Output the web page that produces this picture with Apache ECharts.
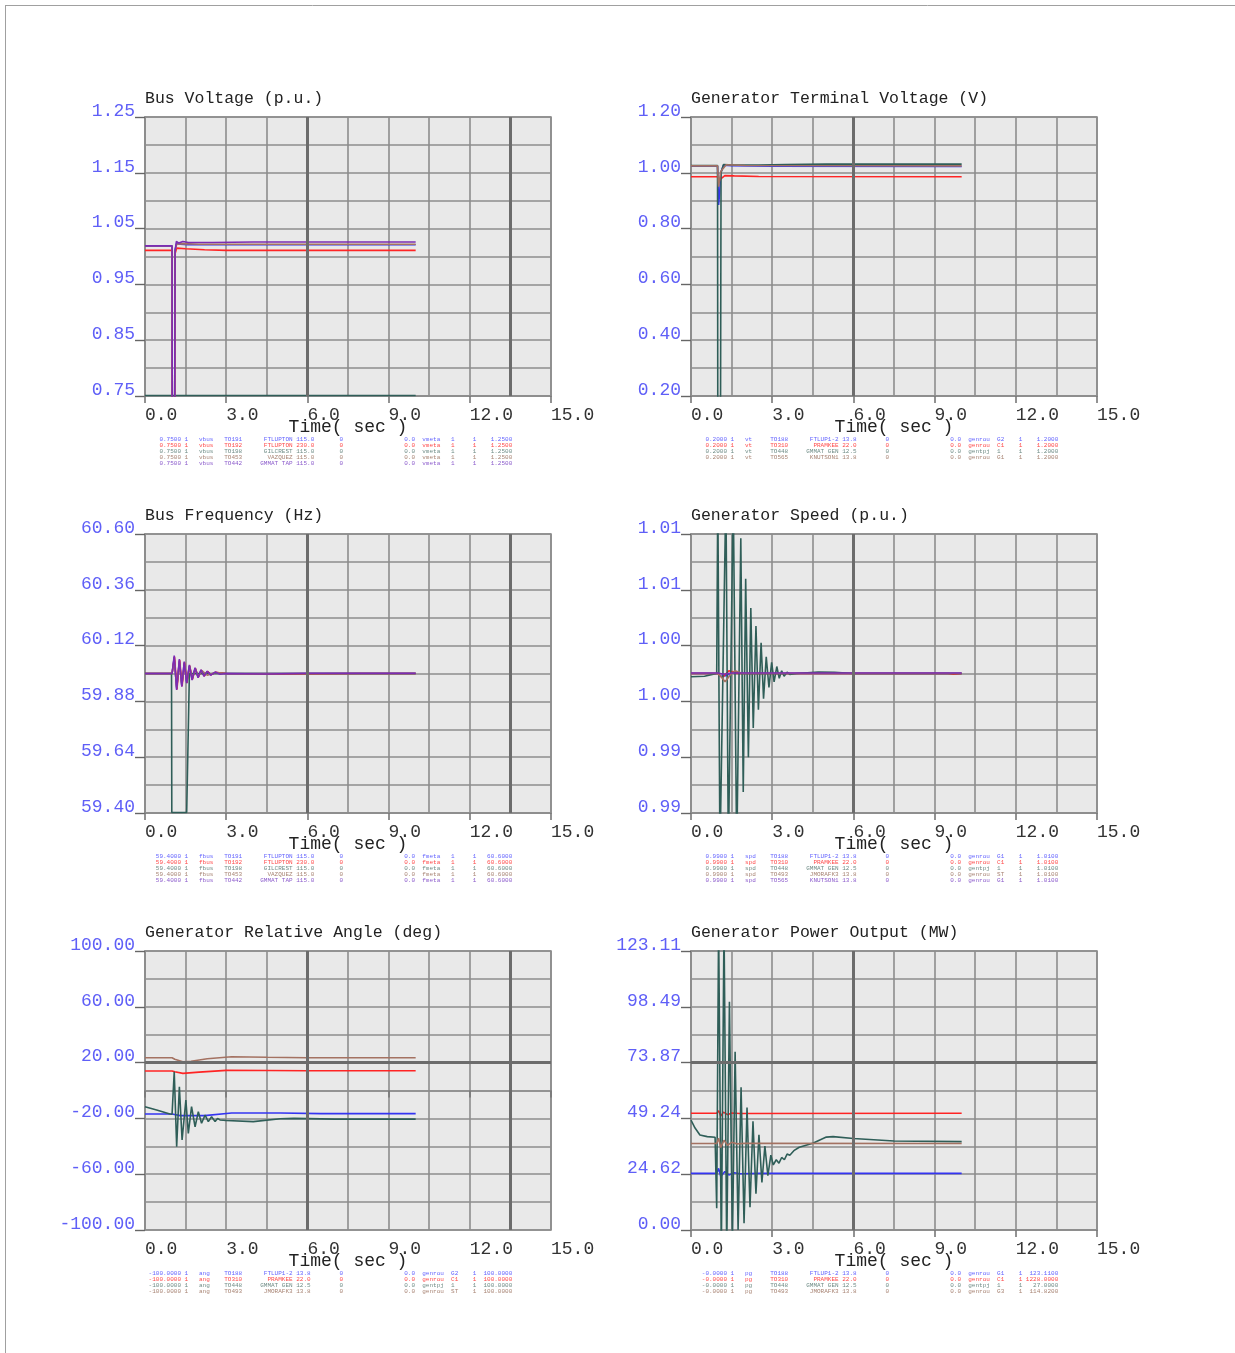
<!DOCTYPE html>
<html>
<head>
<meta charset="UTF-8">
<title>Dynamic Simulation Plots</title>
<script src="https://cdn.jsdelivr.net/npm/echarts@6/dist/echarts.min.js"></script>
<style>
  html, body { margin: 0; padding: 0; background: #fff; }
</style>
</head>
<body>
<div id="chart" style="width: 1235px; height: 1353px;"></div>
<script>
const FONT = '"Liberation Mono", "DejaVu Sans Mono", monospace';

// ---------- axes: [min, max, label step] ----------
const timeAxis = [0, 15, 3];
const busVoltAxis = [0.75, 1.25, 0.1];
const termVoltAxis = [0.2, 1.2, 0.2];
const freqAxis = [59.4, 60.6, 0.24];
const speedAxis = [0.99, 1.01, 0.004];
const angleAxis = [-100, 100, 40];
const powerAxis = [0, 123.11, 24.622];

// ---------- Bus Voltage (p.u.) ----------
const busVoltBlue = [[0,1.019],[1.0,1.019],[1.01,0.55],[1.09,0.55],[1.11,1.012],[1.16,1.023],[1.3,1.022],[1.6,1.021],[3,1.021],[10,1.021]];
const busVoltRed = [[0,1.011],[1.0,1.011],[1.01,0.58],[1.09,0.58],[1.11,1.005],[1.17,1.015],[1.5,1.014],[2.2,1.012],[3,1.011],[10,1.011]];
const busVoltTeal = [[0,0.751],[10,0.751]];
const busVoltBrown = [[0,1.019],[1.0,1.019],[1.01,0.56],[1.09,0.56],[1.11,1.01],[1.17,1.022],[1.4,1.023],[2,1.022],[10,1.022]];
const busVoltPurple = [[0,1.019],[1.0,1.019],[1.01,0.55],[1.09,0.55],[1.11,1.008],[1.16,1.027],[1.25,1.024],[1.4,1.027],[1.6,1.025],[2.5,1.025],[4,1.026],[10,1.026]];

// ---------- Generator Terminal Voltage (V) ----------
const termVoltBlue = [[0,1.024],[0.98,1.024],[1.02,0.885],[1.06,0.93],[1.1,1.0],[1.2,1.027],[1.5,1.025],[3,1.024],[10,1.023]];
const termVoltRed = [[0,0.986],[0.98,0.986],[1.02,0.968],[1.1,0.978],[1.25,0.99],[1.6,0.989],[2.5,0.987],[10,0.986]];
const termVoltTeal = [[0,1.026],[0.98,1.026],[0.99,0.1],[1.09,0.1],[1.11,1.0],[1.2,1.03],[1.6,1.028],[2.5,1.028],[3.5,1.03],[5,1.031],[10,1.031]];
const termVoltBrown = [[0,1.025],[0.98,1.025],[1.02,0.95],[1.1,1.005],[1.3,1.029],[2,1.026],[10,1.025]];

// ---------- Bus Frequency (Hz) ----------
const freqBlue = [[0,60.0],[1.0,60.0],[1.08,60.07],[1.17,59.935],[1.27,60.056],[1.36,59.948],[1.45,60.046],[1.54,59.962],[1.64,60.033],[1.74,59.975],[1.85,60.022],[1.96,59.985],[2.07,60.014],[2.18,59.99],[2.3,60.008],[2.43,59.995],[2.6,60.004],[3.0,60.0],[10,60.0]];
const freqRed = [[0,60.0],[1.0,60.0],[1.09,60.072],[1.18,59.932],[1.28,60.058],[1.37,59.946],[1.46,60.048],[1.55,59.96],[1.65,60.034],[1.75,59.974],[1.86,60.023],[1.97,59.984],[2.08,60.015],[2.19,59.989],[2.31,60.009],[2.44,59.994],[2.6,60.005],[3.0,60.0],[5,59.998],[8,60.0],[10,60.0]];
const freqTeal = [[0,60.0],[0.98,60.0],[0.99,59.402],[1.54,59.402],[1.64,60.0],[10,60.0]];
const freqBrown = [[0,60.0],[1.0,60.0],[1.08,60.06],[1.17,59.94],[1.27,60.05],[1.36,59.95],[1.46,60.04],[1.55,59.965],[1.65,60.03],[1.75,59.978],[1.86,60.02],[1.97,59.986],[2.1,60.012],[2.3,59.993],[2.6,60.004],[3.0,60.0],[10,60.0]];
const freqPurple = [[0,60.0],[1.0,60.0],[1.08,60.077],[1.17,59.929],[1.27,60.062],[1.36,59.943],[1.45,60.051],[1.54,59.958],[1.64,60.037],[1.74,59.972],[1.85,60.025],[1.96,59.982],[2.07,60.016],[2.18,59.988],[2.3,60.01],[2.43,59.993],[2.59,60.006],[2.77,59.997],[3.0,60.0],[4.5,59.998],[6,60.001],[10,60.001]];

// ---------- Generator Speed (p.u.) ----------
const speedBlue = [[0,1.0],[0.98,1.0],[1.1,0.9998],[1.3,0.99985],[1.6,1.0001],[2,1.0],[10,1.0]];
const speedRed = [[0,1.0],[0.98,1.0],[1.15,0.9997],[1.4,1.0002],[1.7,1.0],[9.5,1.0],[9.7,0.99995],[10,1.0]];
const speedTeal = [[0,0.99977],[0.5,0.9998],[0.95,1.0],[0.99,1.013],[1.07,0.987],[1.29,1.013],[1.38,0.987],[1.56,1.013],[1.69,0.987],[1.84,1.0097],[1.93,0.9915],[2.02,1.0068],[2.12,0.994],[2.21,1.0047],[2.3,0.9961],[2.4,1.0034],[2.49,0.9974],[2.59,1.0022],[2.68,0.9982],[2.78,1.0012],[2.88,0.999],[2.98,1.0008],[3.07,0.9994],[3.17,1.0005],[3.26,0.99965],[3.35,1.0002],[3.44,0.9998],[3.55,1.0001],[3.65,0.99993],[3.9,1.0],[4.7,1.0001],[5.3,1.00008],[6,1.0],[10,1.0]];
const speedBrown = [[0,1.0],[0.98,1.0],[1.1,0.9998],[1.26,0.99941],[1.45,0.9999],[1.63,1.0002],[1.9,1.0],[10,1.0]];
const speedPurple = [[0,1.00004],[1.0,1.00004],[1.2,0.99995],[1.5,1.00004],[10,1.00004]];

// ---------- Generator Relative Angle (deg) ----------
const angleBlue = [[0,-16.8],[1.0,-16.8],[1.3,-18.0],[2.2,-18.0],[3.2,-16.1],[5.0,-16.1],[6.5,-16.6],[10,-16.6]];
const angleRed = [[0,14.0],[1.0,14.0],[1.1,13.4],[1.4,12.3],[2.0,13.2],[3.0,14.4],[4.5,14.3],[6,14.2],[10,14.2]];
const angleTeal = [[0,-11.6],[0.43,-14.0],[0.92,-16.8],[1.0,-17.0],[1.08,13.5],[1.17,-40.3],[1.27,2.7],[1.37,-35.5],[1.51,-6.8],[1.6,-30.7],[1.72,-11.6],[1.85,-26.0],[1.97,-15.2],[2.09,-23.5],[2.22,-17.6],[2.34,-22.3],[2.46,-18.8],[2.59,-22.3],[2.68,-20.0],[2.77,-21.1],[3.0,-21.5],[4.0,-22.3],[5.0,-20.3],[5.5,-20.0],[7.0,-20.5],[10,-20.5]];
const angleBrown = [[0,23.5],[1.0,23.5],[1.1,22.4],[1.4,20.6],[1.7,21.0],[2.3,22.8],[3.2,24.2],[4.5,23.8],[6,23.5],[10,23.5]];

// ---------- Generator Power Output (MW) ----------
const powerBlue = [[0,25.0],[0.95,25.0],[1.02,27.2],[1.1,23.6],[1.25,25.8],[1.4,24.3],[1.6,25.3],[1.8,24.8],[2.5,25.0],[10,25.0]];
const powerRed = [[0,51.5],[0.95,51.5],[1.02,52.6],[1.1,50.3],[1.2,52.0],[1.35,50.9],[1.5,51.6],[1.8,51.4],[10,51.5]];
const powerTeal = [[0,48.5],[0.15,45.0],[0.33,41.9],[0.6,41.2],[0.89,40.9],[0.95,9.6],[1.02,135],[1.12,-10],[1.22,135],[1.32,-10],[1.42,100.7],[1.53,-5],[1.63,78.7],[1.74,0],[1.85,63.0],[1.96,3.0],[2.07,54.0],[2.18,10.0],[2.29,48.0],[2.4,16.0],[2.51,42.0],[2.62,21.0],[2.73,37.0],[2.84,24.0],[2.95,33.0],[3.04,28.7],[3.15,31.0],[3.25,29.5],[3.35,32.0],[3.45,31.0],[3.55,33.5],[3.65,33.0],[3.8,35.0],[4.0,36.5],[4.5,38.3],[5.0,41.0],[5.25,41.2],[6.0,40.4],[7.5,39.3],[10,39.0]];
const powerBrown = [[0,38.2],[0.95,38.2],[1.02,40.5],[1.1,36.4],[1.22,39.6],[1.35,37.4],[1.5,38.7],[1.7,38.0],[2,38.3],[10,38.2]];

// ---------- channel listings under each plot ----------
const busVoltRows = [
  ['0.7500','1','vbus','TO191','FTLUPTON','115.0','0','0.0','vmeta','1','1','1.2500'],
  ['0.7500','1','vbus','TO192','FTLUPTON','230.0','0','0.0','vmeta','1','1','1.2500'],
  ['0.7500','1','vbus','TO198','GILCREST','115.0','0','0.0','vmeta','1','1','1.2500'],
  ['0.7500','1','vbus','TO453','VAZQUEZ','115.0','0','0.0','vmeta','1','1','1.2500'],
  ['0.7500','1','vbus','TO442','GMMAT TAP','115.0','0','0.0','vmeta','1','1','1.2500']
];
const termVoltRows = [
  ['0.2000','1','vt','TO188','FTLUP1-2','13.8','0','0.0','genrou','G2','1','1.2000'],
  ['0.2000','1','vt','TO310','PRAMKEE','22.0','0','0.0','genrou','C1','1','1.2000'],
  ['0.2000','1','vt','TO448','GMMAT GEN','12.5','0','0.0','gentpj','1','1','1.2000'],
  ['0.2000','1','vt','TO565','KNUTSON1','13.8','0','0.0','genrou','G1','1','1.2000']
];
const freqRows = [
  ['59.4000','1','fbus','TO191','FTLUPTON','115.0','0','0.0','fmeta','1','1','60.6000'],
  ['59.4000','1','fbus','TO192','FTLUPTON','230.0','0','0.0','fmeta','1','1','60.6000'],
  ['59.4000','1','fbus','TO198','GILCREST','115.0','0','0.0','fmeta','1','1','60.6000'],
  ['59.4000','1','fbus','TO453','VAZQUEZ','115.0','0','0.0','fmeta','1','1','60.6000'],
  ['59.4000','1','fbus','TO442','GMMAT TAP','115.0','0','0.0','fmeta','1','1','60.6000']
];
const speedRows = [
  ['0.9900','1','spd','TO188','FTLUP1-2','13.8','0','0.0','genrou','G1','1','1.0100'],
  ['0.9900','1','spd','TO310','PRAMKEE','22.0','0','0.0','genrou','C1','1','1.0100'],
  ['0.9900','1','spd','TO448','GMMAT GEN','12.5','0','0.0','gentpj','1','1','1.0100'],
  ['0.9900','1','spd','TO493','JMORAFK3','13.8','0','0.0','genrou','ST','1','1.0100'],
  ['0.9900','1','spd','TO565','KNUTSON1','13.8','0','0.0','genrou','G1','1','1.0100']
];
const angleRows = [
  ['-100.0000','1','ang','TO188','FTLUP1-2','13.8','0','0.0','genrou','G2','1','100.0000'],
  ['-100.0000','1','ang','TO310','PRAMKEE','22.0','0','0.0','genrou','C1','1','100.0000'],
  ['-100.0000','1','ang','TO448','GMMAT GEN','12.5','0','0.0','gentpj','1','1','100.0000'],
  ['-100.0000','1','ang','TO493','JMORAFK3','13.8','0','0.0','genrou','ST','1','100.0000']
];
const powerRows = [
  ['-0.0000','1','pg','TO188','FTLUP1-2','13.8','0','0.0','genrou','G1','1','123.1100'],
  ['-0.0000','1','pg','TO310','PRAMKEE','22.0','0','0.0','genrou','C1','1','1228.0000'],
  ['-0.0000','1','pg','TO448','GMMAT GEN','12.5','0','0.0','gentpj','1','1','27.0000'],
  ['-0.0000','1','pg','TO493','JMORAFK3','13.8','0','0.0','genrou','G3','1','114.8200']
];

// ---------- layout / style ----------
const COL_X = [145, 691];
const ROW_Y = [117, 534, 951];
const PLOT_W = 406, PLOT_H = 279;
const GRID_COLOR = '#8d8d8d';
const LINE_COLORS = {blue: '#3434f2', red: '#ff2424', teal: '#2f5e58', brown: '#a47262', purple: '#7b2cb4'};
const ROW_COLORS = ['#6464ff', '#ff4a4a', '#6f8c86', '#a88474', '#8c5ccc'];
const SERIES_ORDER = ['blue', 'red', 'teal', 'brown', 'purple'];
// character columns of the listing fields: [column, align]
const LIST_COLS = [[9,'r'],[10,'l'],[14,'l'],[21,'l'],[40,'r'],[41,'l'],[53,'l'],[71,'l'],[76,'l'],[84,'l'],[90,'l'],[101,'r']];
const LIST_FONT = 6, LIST_CHAR = 3.6;

const panels = [
  {title: 'Bus Voltage (p.u.)', col: 0, row: 0, y: busVoltAxis, dec: 2, thickX: [6, 13.5], thickY: [],
   lines: [busVoltBlue, busVoltRed, busVoltTeal, busVoltBrown, busVoltPurple], rows: busVoltRows},
  {title: 'Generator Terminal Voltage (V)', col: 1, row: 0, y: termVoltAxis, dec: 2, thickX: [6], thickY: [],
   lines: [termVoltBlue, termVoltRed, termVoltTeal, termVoltBrown], rows: termVoltRows},
  {title: 'Bus Frequency (Hz)', col: 0, row: 1, y: freqAxis, dec: 2, thickX: [6, 13.5], thickY: [],
   lines: [freqBlue, freqRed, freqTeal, freqBrown, freqPurple], rows: freqRows},
  {title: 'Generator Speed (p.u.)', col: 1, row: 1, y: speedAxis, dec: 2, thickX: [6], thickY: [],
   lines: [speedBlue, speedRed, speedTeal, speedBrown, speedPurple], rows: speedRows},
  {title: 'Generator Relative Angle (deg)', col: 0, row: 2, y: angleAxis, dec: 2, thickX: [6, 13.5], thickY: [20],
   lines: [angleBlue, angleRed, angleTeal, angleBrown], rows: angleRows},
  {title: 'Generator Power Output (MW)', col: 1, row: 2, y: powerAxis, dec: 2, thickX: [6], thickY: [73.866],
   lines: [powerBlue, powerRed, powerTeal, powerBrown], rows: powerRows}
];

function listingLine(fields) {
  let s = '';
  fields.forEach((f, k) => {
    const [c, a] = LIST_COLS[k];
    const start = a === 'r' ? c - f.length : c;
    if (s.length >= start && s.length) s += ' ';
    while (s.length < start) s += ' ';
    s += f;
  });
  return s;
}

const gridLine = {show: true, lineStyle: {color: GRID_COLOR, width: 1.6, type: 'solid'}};

const option = {
  animation: false,
  backgroundColor: '#fff',
  title: [], grid: [], xAxis: [], yAxis: [], series: [],
  graphic: [
    {type: 'line', shape: {x1: 5, y1: 5.5, x2: 1235, y2: 5.5}, style: {stroke: '#a0a0a0', lineWidth: 1}},
    {type: 'line', shape: {x1: 5.5, y1: 5, x2: 5.5, y2: 1353}, style: {stroke: '#a0a0a0', lineWidth: 1}}
  ]
};

panels.forEach((p, i) => {
  const left = COL_X[p.col], top = ROW_Y[p.row];
  option.title.push({
    text: p.title, left: left, top: top - 27, padding: 0,
    textStyle: {fontFamily: FONT, fontSize: 16.5, fontWeight: 'normal', color: '#222'}
  });
  option.grid.push({
    left: left, top: top, width: PLOT_W, height: PLOT_H, outerBoundsMode: 'none',
    show: true, backgroundColor: '#e9e9e9', borderColor: GRID_COLOR, borderWidth: 1.6
  });
  option.xAxis.push({
    type: 'value', gridIndex: i, min: timeAxis[0], max: timeAxis[1], interval: timeAxis[2],
    name: 'Time( sec )', nameLocation: 'middle', nameGap: 22, nameMoveOverlap: false,
    nameTextStyle: {fontFamily: FONT, fontSize: 18, color: '#222'},
    axisLine: {show: true, lineStyle: {color: GRID_COLOR, width: 1.6}},
    axisTick: {show: true, inside: false, length: 7, lineStyle: {color: '#777', width: 1.6}},
    axisLabel: {formatter: v => v.toFixed(1), align: 'left', margin: 10, fontFamily: FONT, fontSize: 18,
                color: '#333', showMinLabel: true, showMaxLabel: true},
    splitLine: gridLine,
    minorTick: {show: false, splitNumber: 2},
    minorSplitLine: gridLine
  });
  option.yAxis.push({
    type: 'value', gridIndex: i, min: p.y[0], max: p.y[1], interval: p.y[2],
    axisLine: {show: true, lineStyle: {color: GRID_COLOR, width: 1.6}},
    axisTick: {show: true, inside: false, length: 10, lineStyle: {color: '#666', width: 1.4}},
    axisLabel: {formatter: v => v.toFixed(p.dec), margin: 10, fontFamily: FONT, fontSize: 18,
                color: '#5f5ff7', verticalAlign: 'bottom', lineHeight: 12,
                showMinLabel: true, showMaxLabel: true},
    splitLine: gridLine,
    minorTick: {show: false, splitNumber: 2},
    minorSplitLine: gridLine
  });
  // heavier reference lines in the grid
  option.series.push({
    type: 'line', xAxisIndex: i, yAxisIndex: i, data: [[0, p.y[0]]], showSymbol: false,
    lineStyle: {width: 0}, silent: true, z: 1,
    markLine: {
      symbol: 'none', silent: true, animation: false, label: {show: false},
      lineStyle: {color: '#6c6c6c', width: 3, type: 'solid'},
      emphasis: {disabled: true},
      data: p.thickX.map(x => ({xAxis: x})).concat(p.thickY.map(y => ({yAxis: y})))
    }
  });
  p.lines.forEach((d, k) => {
    option.series.push({
      type: 'line', xAxisIndex: i, yAxisIndex: i, data: d, showSymbol: false, symbol: 'none',
      clip: true, z: 3, lineStyle: {color: LINE_COLORS[SERIES_ORDER[k]], width: 1.6},
      itemStyle: {color: LINE_COLORS[SERIES_ORDER[k]]}
    });
  });
  p.rows.forEach((r, k) => {
    option.graphic.push({
      type: 'text', x: left + LIST_CHAR, y: top + PLOT_H + 43 + k * 6,
      style: {text: listingLine(r), fontFamily: FONT, fontSize: LIST_FONT, fill: ROW_COLORS[k],
              verticalAlign: 'middle'}
    });
  });
});

const chart = echarts.init(document.getElementById('chart'));
chart.setOption(option);
</script>
</body>
</html>
